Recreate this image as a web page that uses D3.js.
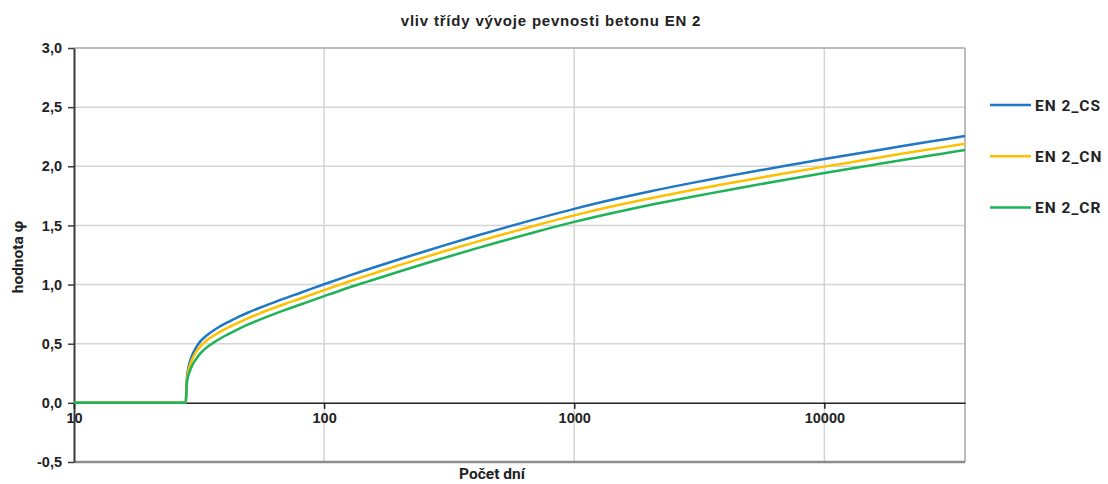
<!DOCTYPE html>
<html>
<head>
<meta charset="utf-8">
<script src="https://cdn.jsdelivr.net/npm/d3@7"></script>
<style>
  body { margin: 0; background: #fff; }
  text { font-family: "Liberation Sans", Arial, sans-serif; font-weight: bold; fill: #222; }
</style>
</head>
<body>
<div id="chart"></div>
<script>
"use strict"

// days since casting (log axis)
let days = [10, 20, 28, 28.2, 28.5, 29, 30, 31, 32, 34, 36, 38, 40, 45, 50, 55, 60, 70, 80, 100,
    125, 150, 200, 250, 300, 400, 500, 700, 1000, 1500, 2000, 3000, 4000, 5000, 7000, 10000,
    15000, 20000, 30000, 36500];

// creep coefficient
let en2CS = [0, 0, 0, 0.18, 0.27, 0.34, 0.425, 0.48, 0.52, 0.572, 0.61, 0.641, 0.668, 0.722, 0.766, 0.802, 0.833, 0.886, 0.929, 1.003,
    1.074, 1.129, 1.214, 1.278, 1.329, 1.408, 1.467, 1.553, 1.64, 1.729, 1.787, 1.862, 1.912, 1.95, 2.005, 2.061,
    2.123, 2.167, 2.227, 2.256];

let en2CN = [0, 0, 0, 0.16, 0.245, 0.31, 0.39, 0.44, 0.478, 0.53, 0.566, 0.596, 0.622, 0.674, 0.718, 0.755, 0.786, 0.838, 0.88, 0.953,
    1.024, 1.079, 1.164, 1.228, 1.279, 1.357, 1.415, 1.5, 1.585, 1.672, 1.728, 1.801, 1.85, 1.887, 1.941, 1.997,
    2.059, 2.103, 2.162, 2.191];

let en2CR = [0, 0, 0, 0.14, 0.21, 0.265, 0.335, 0.38, 0.418, 0.47, 0.507, 0.538, 0.565, 0.62, 0.665, 0.702, 0.733, 0.786, 0.829, 0.902,
    0.973, 1.027, 1.111, 1.174, 1.224, 1.302, 1.36, 1.445, 1.53, 1.616, 1.672, 1.745, 1.794, 1.832, 1.887, 1.943,
    2.005, 2.049, 2.109, 2.138];

let seriesNames = ["EN 2_CS", "EN 2_CN", "EN 2_CR"];
let seriesColors = ["#1f77c6", "#ffc000", "#1db356"];
let xTicks = [10, 100, 1000, 10000];
let yTicks = [-0.5, 0, 0.5, 1, 1.5, 2, 2.5, 3];

let width = 1108,
    height = 484;
let plotLeft = 74, plotRight = 965, plotTop = 48, plotBottom = 462;

let svg = d3.select("#chart")
    .append("svg")
    .attr("width", width)
    .attr("height", height);

let x = d3.scaleLog().domain([10, 36500]).range([plotLeft, plotRight]);
let y = d3.scaleLinear().domain([-0.5, 3]).range([plotBottom, plotTop]);

let fmt = function (d) {
    return d3.format(".1f")(d).replace(".", ",").replace("−", "-");
}

// grid
svg.selectAll(".hgrid")
    .data(yTicks.filter(d => d != 0 && d != -0.5 && d != 3))
    .enter()
    .append("line")
    .attr("x1", plotLeft).attr("x2", plotRight)
    .attr("y1", d => y(d)).attr("y2", d => y(d))
    .attr("stroke", "#d4d4d4")
    .attr("stroke-width", 1.5);

svg.selectAll(".vgrid")
    .data(xTicks.slice(1))
    .enter()
    .append("line")
    .attr("x1", d => x(d)).attr("x2", d => x(d))
    .attr("y1", plotTop).attr("y2", plotBottom)
    .attr("stroke", "#d4d4d4")
    .attr("stroke-width", 1.5);

// frame
svg.append("line").attr("x1", plotLeft).attr("x2", plotRight).attr("y1", plotTop).attr("y2", plotTop)
    .attr("stroke", "#a6a6a6").attr("stroke-width", 1.5);
svg.append("line").attr("x1", plotRight).attr("x2", plotRight).attr("y1", plotTop).attr("y2", plotBottom)
    .attr("stroke", "#a6a6a6").attr("stroke-width", 1.5);
svg.append("line").attr("x1", plotLeft).attr("x2", plotRight).attr("y1", plotBottom).attr("y2", plotBottom)
    .attr("stroke", "#8c8c8c").attr("stroke-width", 2.5);

// y axis
let yAxis = svg.append("g")
    .attr("transform", "translate(" + plotLeft + ",0)")
    .call(d3.axisLeft(y).tickValues(yTicks).tickFormat(fmt).tickSize(6).tickSizeOuter(0).tickPadding(6));
yAxis.select(".domain").attr("stroke", "#3a3a3a").attr("stroke-width", 2);
yAxis.selectAll(".tick line").attr("stroke", "#3a3a3a").attr("stroke-width", 1.5);
yAxis.selectAll("text").style("font-size", "14.5px").attr("fill", "#222");

// x axis on the zero line
let xAxis = svg.append("g")
    .attr("transform", "translate(0," + y(0) + ")")
    .call(d3.axisBottom(x).tickValues(xTicks).tickFormat(d3.format("d")).tickSize(6).tickSizeOuter(0).tickPadding(4));
xAxis.select(".domain").attr("stroke", "#222").attr("stroke-width", 1.5);
xAxis.selectAll(".tick line").attr("stroke", "#222").attr("stroke-width", 1.5);
xAxis.selectAll("text").style("font-size", "14.5px").attr("fill", "#222");

// lines
let allSeries = [en2CS, en2CN, en2CR];
let line = d3.line()
    .x((d, i) => x(days[i]))
    .y(d => y(d))
    .curve(d3.curveMonotoneX);

svg.selectAll(".series")
    .data(allSeries)
    .enter()
    .append("path")
    .attr("d", d => line(d))
    .attr("fill", "none")
    .attr("stroke", (d, i) => seriesColors[i])
    .attr("stroke-width", 2.5);

// titles
svg.append("text")
    .attr("x", 551).attr("y", 26)
    .attr("text-anchor", "middle")
    .style("font-size", "15px")
    .style("letter-spacing", "0.8px")
    .text("vliv třídy vývoje pevnosti betonu EN 2");

svg.append("text")
    .attr("x", 492).attr("y", 479)
    .attr("text-anchor", "middle")
    .style("font-family", "Roboto, sans-serif")
    .style("font-size", "15.5px")
    .text("Počet dní");

svg.append("text")
    .attr("transform", "translate(23,257) rotate(-90)")
    .attr("text-anchor", "middle")
    .style("font-family", "Roboto, sans-serif")
    .style("font-size", "15.5px")
    .text("hodnota φ");

// legend
let legend = svg.selectAll(".legend")
    .data(seriesNames)
    .enter()
    .append("g")
    .attr("transform", (d, i) => "translate(990," + (105 + i * 51.3) + ")");
legend.append("line")
    .attr("x1", 0).attr("x2", 41)
    .attr("stroke", (d, i) => seriesColors[i])
    .attr("stroke-width", 2.5);
legend.append("text")
    .attr("x", 45).attr("y", 5.5)
    .style("font-family", "Roboto, sans-serif")
    .style("font-size", "15.5px")
    .style("letter-spacing", "1px")
    .text(d => d);
</script>
</body>
</html>
